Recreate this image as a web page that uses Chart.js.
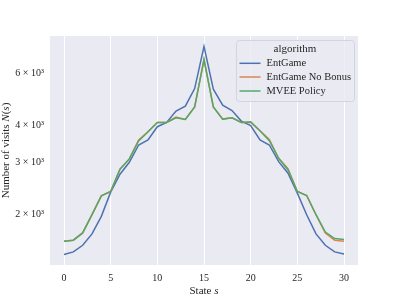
<!DOCTYPE html>
<html><head><meta charset="utf-8">
<script src="https://cdn.jsdelivr.net/npm/chart.js@4/dist/chart.umd.min.js"></script>
<style>html,body{margin:0;padding:0;background:#fff}canvas{display:block}</style>
</head><body>
<canvas id="c" width="399" height="299"></canvas>
<script>
const states = [0,1,2,3,4,5,6,7,8,9,10,11,12,13,14,15,16,17,18,19,20,21,22,23,24,25,26,27,28,29,30];
const entGame = [1467,1497,1576,1722,1974,2384,2742,3008,3442,3577,3968,4102,4479,4656,5340,7414,5312,4692,4502,4146,4000,3577,3442,3024,2762,2366,2000,1722,1576,1497,1474];
const entGameNoBonus = [1627,1640,1736,2000,2316,2396,2850,3088,3580,3815,4102,4102,4280,4200,4632,6686,4632,4210,4254,4102,4100,3846,3590,3104,2860,2396,2323,2000,1735,1640,1627];
const mveePolicy = [1627,1640,1736,2000,2316,2396,2850,3088,3550,3815,4102,4102,4254,4200,4632,6686,4632,4210,4254,4102,4124,3846,3560,3104,2834,2396,2323,2000,1748,1661,1648];
const seriesNames = ['EntGame','EntGame No Bonus','MVEE Policy'];
const seriesColors = ['#4C72B0','#DD8452','#55A868'];
const xTicks = [0,5,10,15,20,25,30];
const yTicks = [2000,3000,4000,6000];
const legendTitle = 'algorithm';
const xTitle = ['State ','s'];
const yTitle = ['Number of visits ','N','(','s',')'];

const FONT = '"Liberation Serif", "DejaVu Serif", serif';
const toPts = arr => states.map((s,i)=>({x:s,y:arr[i]}));

const bgPlugin = {
  id:'bg',
  beforeDraw(chart){
    const {ctx, chartArea:a} = chart;
    ctx.save(); ctx.fillStyle='#EAEAF2';
    ctx.fillRect(a.left,a.top,a.right-a.left,a.bottom-a.top);
    ctx.restore();
  },
  afterDraw(chart){
    const {ctx, chartArea:a} = chart;
    ctx.save();
    ctx.fillStyle='#262626'; ctx.textBaseline='middle';
    ctx.font='11px '+FONT; const w1=ctx.measureText(xTitle[0]).width;
    ctx.font='italic 11px '+FONT; const w2=ctx.measureText(xTitle[1]).width;
    let x0=(a.left+a.right)/2-(w1+w2)/2;
    ctx.font='11px '+FONT; ctx.textAlign='left'; ctx.fillText(xTitle[0],x0,291);
    ctx.font='italic 11px '+FONT; ctx.fillText(xTitle[1],x0+w1,291);
    ctx.translate(6,(a.top+a.bottom)/2); ctx.rotate(-Math.PI/2);
    const styles=['','italic ','','italic ',''];
    let tw=0; const ws=yTitle.map((t,i)=>{ctx.font=styles[i]+'11px '+FONT;const w=ctx.measureText(t).width;tw+=w;return w;});
    let xx=-tw/2;
    yTitle.forEach((t,i)=>{ctx.font=styles[i]+'11px '+FONT;ctx.fillText(t,xx,0);xx+=ws[i];});
    ctx.restore();
    ctx.save();
    const L=236,T=40,R=354,B=101;
    ctx.beginPath();
    if(ctx.roundRect) ctx.roundRect(L+0.5,T+0.5,R-L,B-T,3); else ctx.rect(L+0.5,T+0.5,R-L,B-T);
    ctx.fillStyle='rgba(234,234,242,0.8)'; ctx.fill();
    ctx.strokeStyle='#D4D4DC'; ctx.lineWidth=1; ctx.stroke();
    ctx.fillStyle='#262626'; ctx.font='11px '+FONT; ctx.textAlign='center'; ctx.textBaseline='middle';
    ctx.fillText(legendTitle,(L+R)/2,49);
    ctx.font='10.5px '+FONT;
    const ys=[63.3,77,91];
    chart.data.datasets.forEach((d,i)=>{
      ctx.strokeStyle=d.borderColor; ctx.lineWidth=1.5;
      ctx.beginPath(); ctx.moveTo(239.5,ys[i]); ctx.lineTo(260.5,ys[i]); ctx.stroke();
      ctx.fillStyle='#262626'; ctx.textAlign='left';
      ctx.fillText(d.label,266.5,ys[i]);
    });
    ctx.restore();
  }
};

new Chart(document.getElementById('c'),{
  type:'line',
  data:{datasets:[
    {label:seriesNames[0],data:toPts(entGame),borderColor:seriesColors[0],order:2},
    {label:seriesNames[1],data:toPts(entGameNoBonus),borderColor:seriesColors[1],order:1},
    {label:seriesNames[2],data:toPts(mveePolicy),borderColor:seriesColors[2],order:0}
  ].map(d=>Object.assign(d,{borderWidth:1.5,pointRadius:0,tension:0,fill:false}))},
  options:{
    responsive:false,animation:false,devicePixelRatio:1,
    layout:{padding:{left:0,right:41,top:36,bottom:0}},
    plugins:{legend:{display:false},tooltip:{enabled:false}},
    scales:{
      x:{type:'linear',min:-1.5,max:31.5,
        afterBuildTicks:s=>{s.ticks=xTicks.map(v=>({value:v}));},
        afterFit:s=>{s.height=34;},
        grid:{color:'#ffffff',lineWidth:1,drawTicks:false},
        border:{display:false},
        ticks:{padding:7,color:'#262626',font:{family:FONT,size:10},maxRotation:0,callback:v=>String(v)}
      },
      y:{type:'logarithmic',min:1352,max:8040,
        afterBuildTicks:s=>{s.ticks=yTicks.map(v=>({value:v}));},
        afterFit:s=>{s.width=50;},
        grid:{display:false,drawTicks:false},
        border:{display:false},
        ticks:{padding:6,color:'#262626',font:{family:FONT,size:10},callback:v=>(v/1000)+' × 10³'}
      }
    }
  },
  plugins:[bgPlugin]
});
</script>
</body></html>
